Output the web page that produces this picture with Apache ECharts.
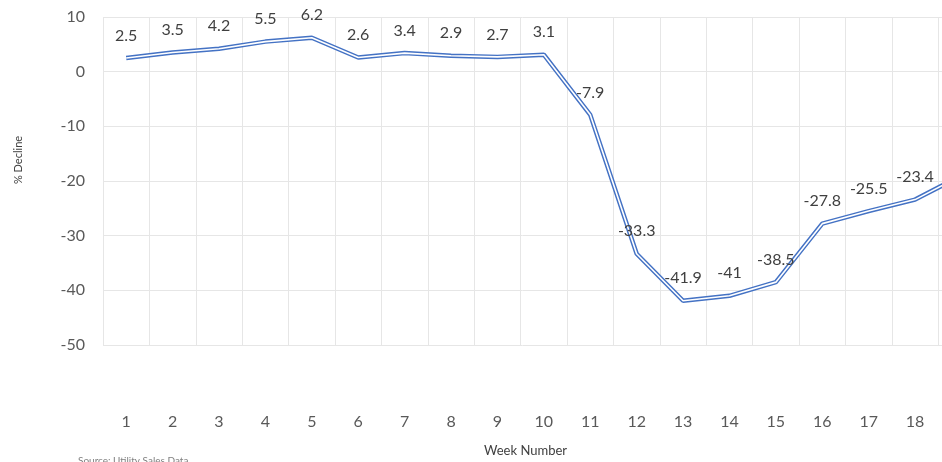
<!DOCTYPE html>
<html><head><meta charset="utf-8">
<script src="https://cdn.jsdelivr.net/npm/echarts@6/dist/echarts.min.js"></script>
<style>html,body{margin:0;padding:0;background:#fff}#c{width:942px;height:462px}</style>
</head><body><div id="c"></div>
<script>
const weeks = [1,2,3,4,5,6,7,8,9,10,11,12,13,14,15,16,17,18,19];
const decline = [2.5,3.5,4.2,5.5,6.2,2.6,3.4,2.9,2.7,3.1,-7.9,-33.3,-41.9,-41,-38.5,-27.8,-25.5,-23.4,-19];
const yTicks = {min:-50, max:10, interval:10};
const xLabels = [1,2,3,4,5,6,7,8,9,10,11,12,13,14,15,16,17,18];
const FONT = 'Lato';
const pts = weeks.map((w,i)=>[w, decline[i]]);
const bounds = weeks.map(w=>w-0.5);
const chart = echarts.init(document.getElementById('c'), null, {renderer:'canvas'});
chart.setOption({
  animation:false,
  textStyle:{fontFamily:FONT},
  grid:{left:103, top:17, right:0, bottom:117, containLabel:false},
  xAxis:{type:'value', min:0.5, max:18.58,
    axisLine:{show:false},
    axisTick:{show:false, customValues:bounds},
    axisLabel:{margin:69, fontSize:16, color:'#595959', fontFamily:FONT, customValues:xLabels},
    splitLine:{show:true, lineStyle:{color:'#e6e6e6', width:1}}},
  yAxis:{type:'value', min:yTicks.min, max:yTicks.max, interval:yTicks.interval,
    axisLine:{show:false}, axisTick:{show:false},
    axisLabel:{margin:18, fontSize:16, color:'#595959', fontFamily:FONT},
    splitLine:{lineStyle:{color:'#e6e6e6', width:1}}},
  series:[
    {type:'line', data:pts, symbol:'none', z:2, silent:true, clip:true,
     lineStyle:{color:'#4472C4', width:4.5}},
    {type:'line', data:pts, symbol:'circle', symbolSize:1, showSymbol:true, z:3, clip:true,
     itemStyle:{color:'rgba(255,255,255,0)'},
     lineStyle:{color:'#ffffff', width:1.6},
     label:{show:true, position:'top', distance:14, fontSize:16, color:'#404040', fontFamily:FONT,
       formatter:p=>String(p.value[1])}}
  ],
  graphic:[
    {type:'text', left:484, top:444, style:{text:'Week Number', font:'13px '+FONT, fill:'#404040'}},
    {type:'text', x:18, y:160, rotation:Math.PI/2, style:{text:'% Decline', font:'11px '+FONT, fill:'#404040', align:'center', verticalAlign:'middle'}},
    {type:'text', left:78, top:456, style:{text:'Source: Utility Sales Data', font:'10px '+FONT, fill:'#808080'}}
  ]
});
</script></body></html>
